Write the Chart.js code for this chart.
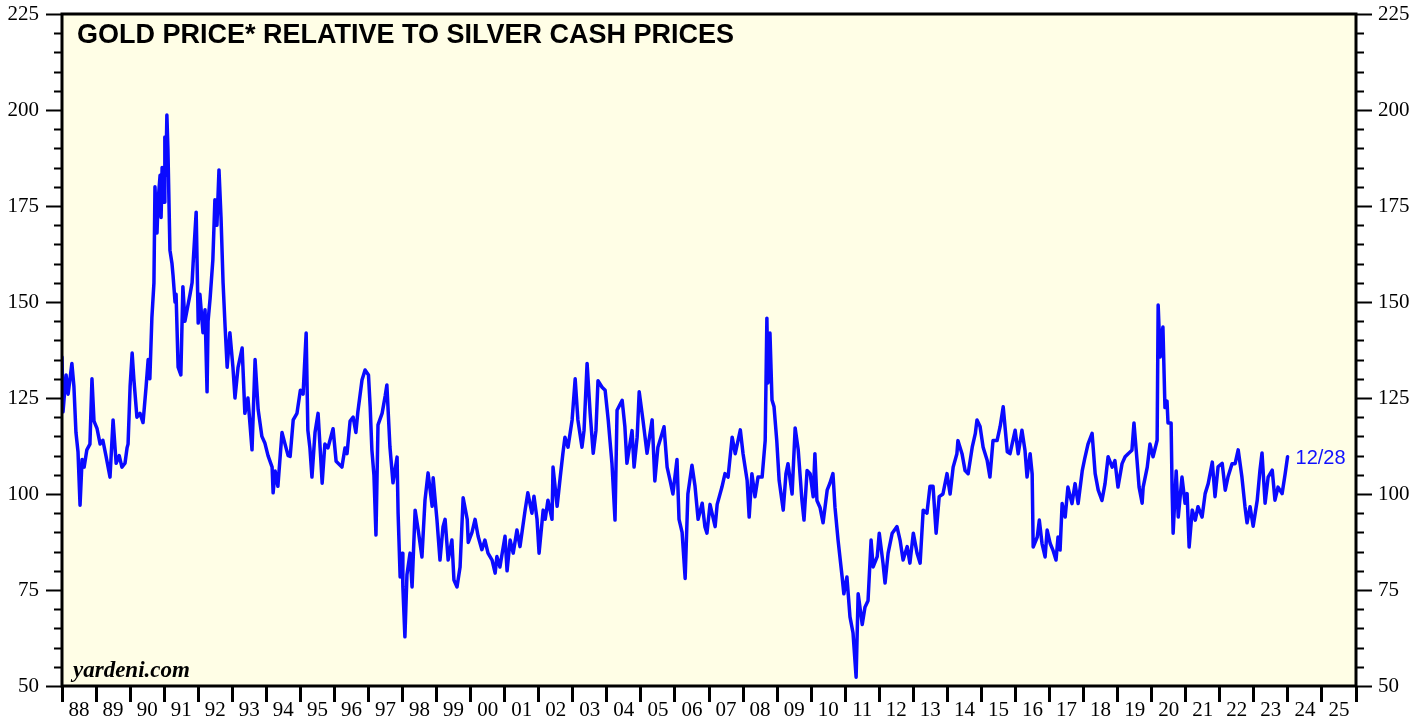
<!DOCTYPE html>
<html>
<head>
<meta charset="utf-8">
<script src="https://cdn.jsdelivr.net/npm/chart.js@4.4.1/dist/chart.umd.min.js"></script>
<style>
  html, body { margin: 0; padding: 0; background: #fff; }
  #wrap { width: 1427px; height: 717px; }
</style>
</head>
<body>
<div id="wrap"><canvas id="ratioChart" width="1427" height="717"></canvas></div>
<script>
// gold price relative to silver, dates as decimal years
const dates = [
  1988.00,1988.03,1988.12,1988.18,1988.29,1988.35,1988.41,1988.47,1988.53,1988.59,1988.65,1988.73,1988.82,1988.88,1988.94,
  1989.03,1989.12,1989.20,1989.29,1989.41,1989.50,1989.59,1989.68,1989.76,1989.85,1989.91,1989.94,
  1990.00,1990.06,1990.11,1990.20,1990.29,1990.38,1990.47,1990.53,1990.58,1990.64,1990.70,1990.73,1990.79,1990.82,1990.88,1990.91,1990.94,
  1991.00,1991.02,1991.05,1991.08,1991.11,1991.17,1991.23,1991.26,1991.32,1991.35,1991.41,1991.49,1991.55,1991.61,1991.67,1991.76,1991.82,1991.85,1991.94,
  1992.00,1992.05,1992.14,1992.20,1992.26,1992.29,1992.35,1992.43,1992.49,1992.55,1992.61,1992.67,1992.73,1992.79,1992.85,1992.93,
  1993.02,1993.08,1993.17,1993.29,1993.37,1993.46,1993.58,1993.67,1993.76,1993.87,1993.96,
  1994.05,1994.17,1994.20,1994.26,1994.34,1994.46,1994.55,1994.64,1994.70,1994.79,1994.90,
  1995.00,1995.08,1995.17,1995.22,1995.28,1995.34,1995.43,1995.52,1995.58,1995.64,1995.72,1995.81,1995.87,1995.96,
  1996.05,1996.22,1996.31,1996.37,1996.46,1996.55,1996.63,1996.69,1996.81,1996.90,
  1997.00,1997.05,1997.10,1997.16,1997.22,1997.28,1997.40,1997.49,1997.54,1997.63,1997.72,1997.84,1997.87,1997.93,1997.99,
  1998.01,1998.07,1998.13,1998.22,1998.28,1998.37,1998.46,1998.57,1998.66,1998.75,1998.87,1998.90,
  1999.01,1999.10,1999.19,1999.25,1999.34,1999.45,1999.51,1999.60,1999.69,1999.78,1999.90,1999.93,
  2000.04,2000.13,2000.22,2000.33,2000.42,2000.51,2000.63,2000.72,2000.77,2000.86,
  2001.01,2001.07,2001.16,2001.25,2001.36,2001.45,2001.60,2001.68,2001.80,2001.86,2001.95,
  2002.01,2002.13,2002.19,2002.27,2002.39,2002.42,2002.54,2002.63,2002.71,2002.77,2002.86,2002.98,
  2003.07,2003.15,2003.27,2003.33,2003.42,2003.51,2003.60,2003.68,2003.74,2003.86,2003.95,
  2004.04,2004.15,2004.24,2004.30,2004.45,2004.53,2004.59,2004.74,2004.80,2004.89,2004.95,
  2005.06,2005.18,2005.33,2005.41,2005.50,2005.62,2005.68,2005.77,2005.86,2005.94,
  2006.06,2006.12,2006.21,2006.30,2006.38,2006.50,2006.59,2006.68,2006.80,2006.88,2006.94,
  2007.03,2007.18,2007.24,2007.38,2007.47,2007.56,2007.68,2007.77,2007.92,
  2008.00,2008.12,2008.18,2008.26,2008.35,2008.44,2008.56,2008.65,2008.70,2008.73,2008.79,2008.85,2008.91,2008.99,
  2009.06,2009.18,2009.26,2009.32,2009.44,2009.53,2009.62,2009.73,2009.79,2009.88,2009.97,
  2010.06,2010.11,2010.17,2010.26,2010.35,2010.47,2010.55,2010.64,2010.70,2010.79,2010.91,2010.96,
  2011.05,2011.14,2011.23,2011.32,2011.38,2011.50,2011.58,2011.67,2011.76,2011.82,2011.94,
  2012.00,2012.11,2012.17,2012.26,2012.38,2012.52,2012.61,2012.70,2012.82,2012.90,
  2013.00,2013.11,2013.20,2013.29,2013.40,2013.49,2013.58,2013.67,2013.76,2013.87,2013.99,
  2014.08,2014.17,2014.28,2014.31,2014.43,2014.52,2014.61,2014.73,2014.82,2014.87,2014.96,
  2015.05,2015.17,2015.25,2015.34,2015.46,2015.55,2015.64,2015.76,2015.84,2015.99,
  2016.08,2016.19,2016.28,2016.34,2016.43,2016.49,2016.52,2016.64,2016.70,2016.78,2016.87,2016.93,
  2017.02,2017.10,2017.19,2017.25,2017.31,2017.37,2017.46,2017.54,2017.66,2017.75,2017.84,2017.96,
  2018.04,2018.13,2018.25,2018.34,2018.43,2018.54,2018.63,2018.72,2018.84,2018.92,
  2019.01,2019.13,2019.22,2019.31,2019.42,2019.48,2019.57,2019.63,2019.72,2019.75,2019.87,2019.95,
  2020.04,2020.16,2020.19,2020.25,2020.30,2020.33,2020.39,2020.45,2020.48,2020.57,2020.60,2020.63,2020.72,2020.78,2020.89,2020.98,
  2021.04,2021.10,2021.19,2021.28,2021.36,2021.48,2021.57,2021.66,2021.78,2021.86,2021.95,
  2022.07,2022.16,2022.24,2022.36,2022.45,2022.54,2022.65,2022.74,2022.80,2022.89,2022.98,
  2023.10,2023.18,2023.24,2023.33,2023.42,2023.54,2023.62,2023.71,2023.83,2023.92,2023.99
];
const ratio = [
  135.7,121.4,131,126,134,128,116,111,97.1,109,107,111.5,113,130,119,
  117,113,114,110,104.4,119.3,108,110,107,108,112,113,
  128,136.7,130,120,121,118.6,128,135,130,146,155,180,168,176,183,172,185,
  176,193,183,198.7,190,163.5,160,157,150,152,133,131,154,145,147.8,152,155,160,173.4,
  144.5,152,142,148,126.6,145,151,161,176.6,170,184.4,172,155,143.5,133,142,
  133,125,133,138,121,125,111.5,135,122,115,113.2,
  110,107,100.3,106,102,116,113,110,109.8,119.3,121,
  127,126,141.9,116.6,112,104.4,116,121,112,102.8,113,112,114,117,
  108.5,107,112,110.5,119,120,116,121.5,129.7,132.3,
  131,122.7,111.5,105,89.3,118,121,125.5,128.4,112.3,102.9,109.6,95,78.4,84.6,
  75.8,62.8,79,84.6,75.8,95.8,90.6,83.6,98.4,105.5,96.8,104.2,
  93.4,82.8,91.5,93.4,82.8,88,77.6,75.8,81,99,93.4,87.4,
  90,93.4,89,85.5,88,84.6,82.8,79.4,83.7,81,
  89,80,88,84.6,90.6,86.3,95.8,100.3,95,99.4,93.4,
  84.6,95.8,93.4,98.4,93.4,107,96.8,104.3,110.6,114.8,112.2,119.3,
  130,119.3,112.2,116.5,134,121,110.6,116.5,129.5,127.8,127,
  119.3,108,93.2,121.8,124.4,117.5,108,116.5,107,114.8,126.6,
  119.3,110.6,119.3,103.4,112.2,115.7,117.5,107,103.4,100,
  109,93.4,90,78,100,107.5,102,93.4,97.6,91.5,89.8,
  97.3,91.5,97.3,101.8,105.3,104.4,114.8,110.5,116.7,
  110.5,103.5,94,105.3,99.3,104.4,104.4,113.9,145.8,128.9,141.9,124.5,122.7,113.9,
  103.5,95.8,105.3,107.9,100,117.2,111.5,98.3,93.2,106.1,105.3,
  99.3,110.5,98.3,96.5,92.5,101,102.8,105.3,96.5,88,78.4,74,
  78.4,68,63.8,52.3,74,66,70.5,72.2,88,81,83.7,
  89.8,82,76.8,84.6,89.8,91.5,88,82.8,86.3,82,
  89.8,84.6,82,95.8,95,102,102,89.8,99.3,100,105.3,
  100,107,110.5,113.9,110.5,106.1,105.3,112.2,115.7,119.3,117.6,
  112.2,108.7,104.4,113.9,113.9,117.6,122.7,111,110.5,116.6,
  110.5,116.6,111.3,104.4,110.5,105.2,86.2,88.8,93.2,87.1,83.6,90.6,
  87.1,85.4,82.8,88.8,85.4,97.5,94,101.8,97.5,102.7,97.5,106,
  109.5,113,115.8,105.3,101,98.3,102.7,109.7,107,108.7,
  101.8,107.9,109.7,110.5,111.4,118.5,108.7,101.8,97.6,101.8,107,113,
  109.7,114,149.2,135.7,141.7,143.5,122.5,124.2,118.5,118.5,101,89.8,106,94,104.4,97.6,
  100.1,86.2,95.8,93.2,96.7,94,100.1,102.7,108.3,99.3,107.1,
  108,101,104.4,107.9,107.9,111.5,104.4,96.7,92.5,96.7,91.6,
  98.4,106.2,110.7,97.6,104.4,106.2,98.4,101.8,100.1,105.3,109.7
];

const yearLabels = ['88','89','90','91','92','93','94','95','96','97','98','99','00','01','02','03','04','05','06','07',
  '08','09','10','11','12','13','14','15','16','17','18','19','20','21','22','23','24','25'];
const firstYear = 1988;
const yTicks = [50, 75, 100, 125, 150, 175, 200, 225];
const minorStep = 5;
const lastDateLabel = '12/28';
const chartTitle = 'GOLD PRICE* RELATIVE TO SILVER CASH PRICES';
const sourceNote = 'yardeni.com';

const serif = '"Liberation Serif", "Times New Roman", serif';
const sans = '"Liberation Sans", Arial, sans-serif';

// plot background, frame, minor ticks and texts
const decorPlugin = {
  id: 'decor',
  beforeDraw(chart) {
    const a = chart.chartArea, ctx = chart.ctx;
    ctx.save();
    ctx.fillStyle = '#fffee6';
    ctx.fillRect(a.left, a.top, a.right - a.left, a.bottom - a.top);
    ctx.restore();
  },
  afterDraw(chart) {
    const a = chart.chartArea, ctx = chart.ctx;
    const y = chart.scales.y;
    ctx.save();
    // minor ticks every 5
    ctx.strokeStyle = '#000';
    ctx.lineWidth = 2;
    for (let v = y.min; v <= y.max; v += minorStep) {
      if (yTicks.includes(v)) continue;
      const py = Math.round(y.getPixelForValue(v)) + 0.5;
      ctx.beginPath();
      ctx.moveTo(a.left - 8, py); ctx.lineTo(a.left, py);
      ctx.moveTo(a.right, py); ctx.lineTo(a.right + 8, py);
      ctx.stroke();
    }
    // frame
    ctx.lineWidth = 3;
    ctx.strokeRect(a.left, a.top, a.right - a.left, a.bottom - a.top);

    ctx.fillStyle = '#000';
    ctx.textBaseline = 'alphabetic';
    ctx.font = 'bold 27px ' + sans;
    ctx.fillText(chartTitle, a.left + 15, a.top + 29);
    ctx.font = 'italic bold 23px ' + serif;
    ctx.fillText(sourceNote, a.left + 11, a.bottom - 9);

    // last date label next to the end of the line
    const x = chart.scales.x;
    const n = dates.length - 1;
    ctx.fillStyle = '#1010ff';
    ctx.font = '20px ' + sans;
    ctx.textBaseline = 'middle';
    ctx.fillText(lastDateLabel, x.getPixelForValue(dates[n]) + 8, y.getPixelForValue(ratio[n]) + 2);
    ctx.restore();
  }
};

const yAxis = (pos, width) => ({
  type: 'linear',
  position: pos,
  min: 50,
  max: 225,
  afterBuildTicks: s => { s.ticks = yTicks.map(v => ({ value: v })); },
  afterFit: s => { s.width = width; s.paddingTop = 0; s.paddingBottom = 0; },
  border: { display: false },
  grid: { drawOnChartArea: false, tickLength: 16, tickWidth: 2, tickColor: '#000' },
  ticks: { color: '#000', padding: pos === 'left' ? 7 : 6, font: { family: serif, size: 21 } }
});

new Chart(document.getElementById('ratioChart'), {
  type: 'line',
  data: {
    datasets: [{
      data: dates.map((d, i) => ({ x: d, y: ratio[i] })),
      borderColor: '#0a0aff',
      borderWidth: 3.5,
      borderJoinStyle: 'round',
      borderCapStyle: 'round',
      pointRadius: 0,
      tension: 0,
      fill: false
    }]
  },
  options: {
    responsive: false,
    animation: false,
    devicePixelRatio: 1,
    layout: { padding: { top: 14, left: 0, right: 0, bottom: 0 } },
    plugins: { legend: { display: false }, tooltip: { enabled: false } },
    scales: {
      x: {
        type: 'linear',
        min: firstYear,
        max: firstYear + yearLabels.length,
        afterBuildTicks: s => {
          const t = [];
          for (let i = 0; i <= yearLabels.length; i++) {
            t.push({ value: firstYear + i });
            if (i < yearLabels.length) t.push({ value: firstYear + i + 0.5 });
          }
          s.ticks = t;
        },
        afterFit: s => { s.height = 31; s.paddingLeft = 0; s.paddingRight = 0; },
        border: { display: false },
        grid: {
          drawOnChartArea: false,
          tickLength: 16,
          tickWidth: 3,
          tickColor: c => (c.tick && c.tick.value % 1 === 0) ? '#000' : 'rgba(0,0,0,0)'
        },
        ticks: {
          autoSkip: false,
          maxRotation: 0,
          padding: -4,
          color: '#000',
          font: { family: serif, size: 21 },
          callback: v => (v % 1 !== 0) ? yearLabels[Math.floor(v) - firstYear] : ''
        }
      },
      y: yAxis('left', 62),
      y2: yAxis('right', 71)
    }
  },
  plugins: [decorPlugin]
});
</script>
</body>
</html>
